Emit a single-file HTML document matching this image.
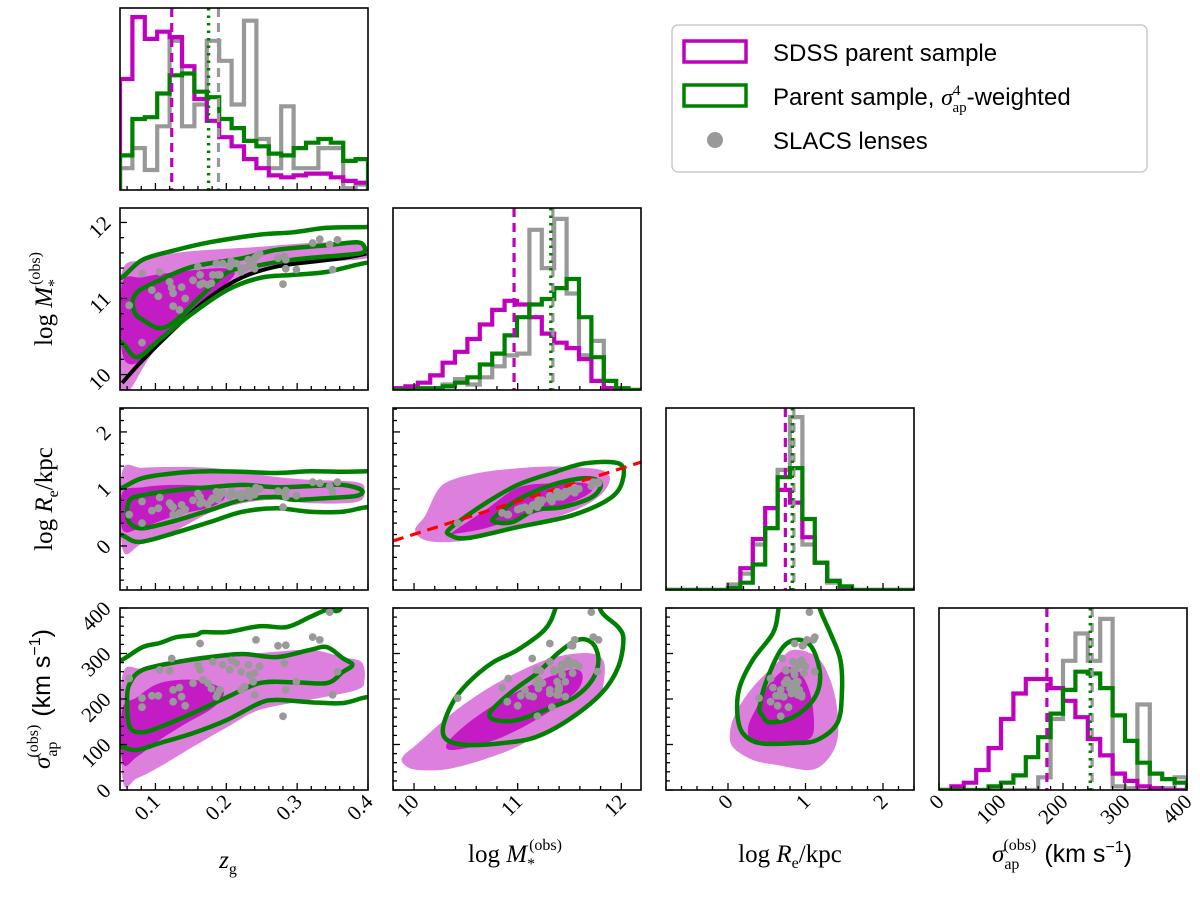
<!DOCTYPE html>
<html>
<head>
<meta charset="utf-8">
<style>
  html,body{margin:0;padding:0;background:#fff;}
  svg{display:block;}
  text{font-family:"Liberation Serif",serif;}
  .sans{font-family:"Liberation Sans",sans-serif;}
</style>
</head>
<body>
<svg id="chart" xmlns="http://www.w3.org/2000/svg" width="1200" height="900" viewBox="0 0 1200 900">
  <rect x="0" y="0" width="1200" height="900" fill="#ffffff"/>
  <defs id="defs"></defs>
  <g id="legend">
    <rect x="672" y="25" width="475" height="147" rx="6" ry="6" fill="#fff" stroke="#cccccc" stroke-width="1.5"/>
    <rect x="684" y="41" width="62" height="21" fill="none" stroke="#bf00bf" stroke-width="3.5"/>
    <text class="sans" x="773" y="61" font-size="24">SDSS parent sample</text>
    <rect x="684" y="85" width="62" height="21" fill="none" stroke="#008000" stroke-width="3.5"/>
    <text class="sans" x="773" y="105" font-size="24">Parent sample, <tspan font-family="Liberation Serif" font-style="italic">σ</tspan><tspan font-size="15" dy="-10" font-family="Liberation Serif">4</tspan><tspan font-size="15" dx="-8" dy="17" font-family="Liberation Serif">ap</tspan><tspan dy="-7">-weighted</tspan></text>
    <circle cx="715" cy="140" r="8" fill="#999999"/>
    <text class="sans" x="773" y="149" font-size="24">SLACS lenses</text>
  </g>
  <g id="axis-titles">
    <text x="228" y="868" font-size="25" text-anchor="middle"><tspan font-style="italic">z</tspan><tspan font-size="16" dy="6">g</tspan></text>
    <text x="515" y="862" font-size="25" text-anchor="middle">log <tspan font-style="italic">M</tspan><tspan font-size="16" dy="7">*</tspan><tspan font-size="16" dx="-6" dy="-19">(obs)</tspan></text>
    <text x="790" y="862" font-size="25" text-anchor="middle">log <tspan font-style="italic">R</tspan><tspan font-size="16" dy="6">e</tspan><tspan dy="-6">/kpc</tspan></text>
    <text x="1062" y="862" font-size="25" text-anchor="middle"><tspan font-style="italic">σ</tspan><tspan font-size="16" dy="7">ap</tspan><tspan font-size="16" dx="-16" dy="-19">(obs)</tspan><tspan class="sans" font-family="Liberation Sans" dx="8" dy="12">(km s</tspan><tspan class="sans" font-family="Liberation Sans" font-size="16" dy="-10">−1</tspan><tspan class="sans" font-family="Liberation Sans" dy="10">)</tspan></text>
    <text transform="translate(52,299) rotate(-90)" font-size="25" text-anchor="middle">log <tspan font-style="italic">M</tspan><tspan font-size="16" dy="7">*</tspan><tspan font-size="16" dx="-6" dy="-19">(obs)</tspan></text>
    <text transform="translate(52,499) rotate(-90)" font-size="25" text-anchor="middle">log <tspan font-style="italic">R</tspan><tspan font-size="16" dy="6">e</tspan><tspan dy="-6">/kpc</tspan></text>
    <text transform="translate(50,699) rotate(-90)" font-size="25" text-anchor="middle"><tspan font-style="italic">σ</tspan><tspan font-size="16" dy="7">ap</tspan><tspan font-size="16" dx="-16" dy="-19">(obs)</tspan><tspan font-family="Liberation Sans" dx="8" dy="12">(km s</tspan><tspan font-family="Liberation Sans" font-size="16" dy="-10">−1</tspan><tspan font-family="Liberation Sans" dy="10">)</tspan></text>
  </g>
</svg>
<script>
// ---------------- data ----------------
const lensZ=[0.063,0.081,0.081,0.095,0.104,0.106,0.120,0.123,0.125,0.125,0.134,0.137,0.142,0.153,0.160,0.163,0.163,0.167,0.174,0.179,0.181,0.186,0.188,0.191,0.195,0.205,0.207,0.214,0.221,0.221,0.226,0.231,0.233,0.238,0.240,0.242,0.240,0.247,0.273,0.280,0.282,0.284,0.284,0.299,0.322,0.332,0.346,0.350,0.357];
const lensM=[10.91,11.33,10.42,11.11,11.03,11.35,11.22,11.14,10.90,11.07,10.85,11.15,11.00,11.24,11.42,11.18,11.31,11.20,11.18,11.20,11.31,11.46,11.31,11.31,11.46,11.42,11.49,11.46,11.35,11.40,11.40,11.51,11.43,11.46,11.53,11.55,11.39,11.59,11.53,11.19,11.55,11.51,11.39,11.38,11.73,11.78,11.71,11.38,11.77];
const lensRe=[0.55,0.78,0.40,0.62,0.66,0.85,0.75,0.70,0.55,0.68,0.58,0.72,0.64,0.80,0.92,0.74,0.86,0.76,0.73,0.80,0.84,0.95,0.82,0.88,0.93,0.87,0.95,0.90,0.85,0.92,0.88,0.97,0.86,0.90,0.98,1.02,0.90,1.00,0.96,0.68,0.93,0.97,0.86,0.88,1.12,1.10,1.05,0.95,1.12];
const lensSig=[245,182,202,207,207,264,262,289,194,220,225,205,185,235,275,264,322,242,235,223,282,205,212,220,275,264,285,279,260,220,227,275,253,238,257,330,209,272,317,162,279,318,220,238,336,330,391,209,260];

const zHistSDSS=[61,95,83,87,84,68,50,38,29,24,17,12,8,7,8,9,9,7,5,4];
const zHistWeighted=[19,39,40,53,63,64,54,51,39,34,27,24,20,19,23,26,28,26,16,17];
const zHistLens=[12,23,11,35,82,35,47,82,71,47,93,28,12,46,12,12,23,23,1,3];
const MHistSDSS=[1,2,4,8,15,21,28,36,44,49,47,40,31,26,23,17,5,1,0,0];
const MHistWeighted=[0,0,1,1,2,4,7,14,20,30,40,47,50,56,61,40,18,5,1,0];
const MHistLens=[0,0,0,0,3,6,3,7,13,19,20,88,67,94,53,19,27,1,0,0];
const ReHistSDSS=[0,0,0,0,0,1,12,28,45,55,48,29,15,5,1,0,0,0,0,0];
const ReHistWeighted=[0,0,0,0,0,1,4,14,34,62,67,39,15,5,2,0,0,0,0,0];
const ReHistLens=[0,0,0,0,0,3,9,25,34,66,95,25,15,4,0,0,0,0,0,0];
const SHistSDSS=[0,2,4,11,23,39,53,61,61,56,49,40,28,19,9,5,2,1,0,0];
const SHistWeighted=[0,0,0,0,2,4,8,18,29,42,55,65,64,56,41,27,15,9,6,4];
const SHistLens=[0,0,0,0,0,0,0,0,7,39,71,86,71,94,2,1,47,1,1,7];

const zMedians=[0.123,0.175,0.189];
const MMedians=[10.965,11.32,11.34];
const ReMedians=[0.74,0.83,0.85];
const SMedians=[174,244,247];

// z vs logM
const zMLight=[[0.051,11.28],[0.082,11.51],[0.130,11.60],[0.177,11.64],[0.247,11.68],[0.318,11.73],[0.384,11.74],[0.40,11.64],[0.40,11.53],[0.318,11.47],[0.271,11.42],[0.223,11.28],[0.177,10.98],[0.130,10.63],[0.092,10.23],[0.064,9.80],[0.051,9.80]];
const zMDark=[[0.053,11.20],[0.082,11.28],[0.130,11.35],[0.191,11.40],[0.212,11.34],[0.195,11.15],[0.153,10.85],[0.106,10.46],[0.074,10.15],[0.053,10.29]];
const zMInner=[[0.068,10.98],[0.078,11.11],[0.106,11.24],[0.153,11.42],[0.223,11.53],[0.271,11.64],[0.342,11.70],[0.384,11.74],[0.395,11.68],[0.392,11.60],[0.364,11.57],[0.294,11.51],[0.237,11.42],[0.201,11.34],[0.163,11.02],[0.130,10.72],[0.106,10.61],[0.082,10.72],[0.071,10.81]];
const zMOuterUpper=[[0.053,11.28],[0.082,11.51],[0.130,11.64],[0.177,11.74],[0.247,11.84],[0.294,11.87],[0.342,11.93],[0.398,11.94]];
const zMOuterLower=[[0.053,10.42],[0.074,10.23],[0.106,10.46],[0.153,10.81],[0.201,11.11],[0.247,11.27],[0.294,11.31],[0.342,11.35],[0.398,11.47]];
const zMCurve=[[0.053,9.89],[0.082,10.19],[0.130,10.63],[0.177,11.02],[0.223,11.28],[0.271,11.42],[0.318,11.48],[0.364,11.53],[0.398,11.59]];

// z vs logRe
const zReLight=[[0.053,1.30],[0.082,1.37],[0.130,1.385],[0.177,1.37],[0.223,1.30],[0.271,1.21],[0.318,1.16],[0.384,1.12],[0.395,0.98],[0.384,0.77],[0.318,0.75],[0.271,0.81],[0.223,0.75],[0.177,0.58],[0.130,0.28],[0.082,0.05],[0.054,-0.07]];
const zReDark=[[0.053,0.93],[0.082,1.03],[0.130,1.07],[0.177,1.03],[0.198,0.86],[0.177,0.68],[0.130,0.54],[0.082,0.33],[0.054,0.28]];
const zReInner=[[0.064,0.81],[0.082,0.89],[0.130,0.98],[0.177,1.03],[0.223,1.07],[0.271,1.03],[0.318,1.05],[0.364,1.07],[0.391,0.98],[0.384,0.88],[0.342,0.84],[0.294,0.81],[0.271,0.86],[0.223,0.81],[0.177,0.63],[0.130,0.45],[0.082,0.31],[0.064,0.40],[0.060,0.58]];
const zReOuterUpper=[[0.053,1.02],[0.082,1.19],[0.130,1.28],[0.177,1.31],[0.223,1.30],[0.271,1.28],[0.318,1.31],[0.364,1.30],[0.398,1.31]];
const zReOuterLower=[[0.053,0.19],[0.078,0.07],[0.130,0.24],[0.177,0.42],[0.223,0.60],[0.271,0.66],[0.318,0.60],[0.364,0.60],[0.398,0.68]];

// logM vs logRe
const MReLight=[[10.01,0.28],[10.11,0.54],[10.23,0.98],[10.37,1.16],[10.69,1.30],[11.17,1.385],[11.49,1.385],[11.81,1.33],[11.89,1.16],[11.78,0.86],[11.49,0.58],[11.00,0.33],[10.69,0.16],[10.37,0.07],[10.11,0.10]];
const MReDark=[[10.37,0.24],[10.69,0.63],[11.00,1.02],[11.33,1.10],[11.65,1.10],[11.72,0.98],[11.58,0.81],[11.33,0.66],[11.00,0.49],[10.69,0.31],[10.42,0.22]];
const MReInner=[[10.78,0.51],[11.00,0.81],[11.33,1.07],[11.65,1.19],[11.80,1.10],[11.72,0.86],[11.43,0.68],[11.17,0.63],[10.95,0.42],[10.78,0.42]];
const MReOuter=[[10.35,0.31],[10.69,0.75],[11.00,1.07],[11.33,1.28],[11.65,1.45],[11.97,1.45],[12.02,1.21],[11.91,0.86],[11.53,0.54],[11.00,0.33],[10.52,0.14],[10.35,0.19]];
const fitLineM=[9.797,12.19];
const fitLineRe=[0.087,1.47];

// z vs sigma
const zSLight=[[0.053,248],[0.082,268],[0.130,286],[0.177,297],[0.247,301],[0.318,308],[0.364,292],[0.391,281],[0.395,242],[0.384,220],[0.318,198],[0.247,176],[0.201,138],[0.153,95],[0.106,51],[0.074,26],[0.054,22]];
const zSDark=[[0.053,176],[0.074,204],[0.106,235],[0.153,242],[0.191,226],[0.195,204],[0.177,176],[0.144,147],[0.106,110],[0.074,73],[0.054,59]];
const zSInner=[[0.060,198],[0.064,235],[0.082,264],[0.130,281],[0.177,292],[0.223,299],[0.271,292],[0.318,308],[0.342,314],[0.364,290],[0.378,275],[0.364,259],[0.342,235],[0.294,237],[0.247,235],[0.201,204],[0.153,169],[0.106,138],[0.082,127],[0.064,138]];
const zSOuterUpper=[[0.053,286],[0.082,314],[0.106,323],[0.130,336],[0.158,341],[0.167,347],[0.201,347],[0.247,360],[0.285,358],[0.318,380],[0.342,396],[0.360,396]];
const zSOuterLower=[[0.053,95],[0.074,88],[0.106,103],[0.153,125],[0.201,154],[0.247,191],[0.271,198],[0.318,193],[0.364,191],[0.398,204]];

// logM vs sigma
const MSLight=[[9.89,73],[10.04,103],[10.37,169],[10.69,220],[11.00,259],[11.33,290],[11.65,301],[11.81,290],[11.84,257],[11.78,204],[11.53,160],[11.17,116],[10.85,81],[10.37,48],[10.04,44],[9.91,55]];
const MSDark=[[10.32,103],[10.52,147],[10.85,198],[11.17,235],[11.49,264],[11.62,257],[11.58,220],[11.33,176],[11.00,132],[10.69,103],[10.37,88]];
const MSInner=[[10.73,169],[10.85,198],[11.00,226],[11.20,259],[11.39,301],[11.58,330],[11.72,323],[11.78,286],[11.72,242],[11.55,204],[11.33,182],[11.00,154],[10.78,154]];
const MSOuter=[[11.40,440],[11.36,396],[11.26,352],[11.00,308],[10.75,279],[10.52,235],[10.37,191],[10.28,138],[10.32,110],[10.52,99],[10.85,103],[11.17,116],[11.49,154],[11.81,213],[11.97,270],[12.02,330],[11.97,358],[11.81,391],[11.72,440]];

// logRe vs sigma
const ReSLight=[[0.03,132],[0.12,176],[0.32,226],[0.63,279],[0.84,308],[1.15,292],[1.32,242],[1.41,176],[1.41,110],[1.28,66],[1.06,44],[0.63,55],[0.32,66],[0.06,95]];
const ReSDark=[[0.26,138],[0.37,182],[0.54,235],[0.80,270],[0.97,248],[1.08,198],[1.10,125],[0.93,105],[0.63,99],[0.32,105]];
const ReSInner=[[0.41,182],[0.50,242],[0.71,314],[0.93,330],[1.10,308],[1.19,248],[1.10,198],[0.84,160],[0.54,149],[0.44,165]];
const ReSOuter=[[0.68,440],[0.65,396],[0.58,345],[0.32,286],[0.15,226],[0.12,169],[0.19,125],[0.41,103],[0.84,103],[1.15,110],[1.41,147],[1.47,213],[1.45,286],[1.32,345],[1.19,396],[1.13,440]];

const zTickVals=[0.1,0.2,0.3,0.4];
const zTickLabels=['0.1','0.2','0.3','0.4'];
const MTickVals=[10,11,12];
const MTickLabels=['10','11','12'];
const ReTickVals=[0,1,2];
const ReTickLabels=['0','1','2'];
const STickVals=[0,100,200,300,400];
const STickLabels=['0','100','200','300','400'];

// ---------------- rendering ----------------
const NS='http://www.w3.org/2000/svg';
const svg=document.getElementById('chart');
const defs=document.getElementById('defs');
function mk(tag,attrs,parent){const e=document.createElementNS(NS,tag);for(const k in attrs)e.setAttribute(k,attrs[k]);(parent||svg).appendChild(e);return e;}

const VARS=['z','M','Re','S'];
const COLX=[120,393,666,939], ROWY=[8,208,408,608], PW=248, PH=182;
const XDOM={z:[0.05,0.4],M:[9.797,12.19],Re:[-0.8,2.4],S:[0,400]};
const YDOM={z:[0.05,0.4],M:[9.797,12.19],Re:[-0.773,2.42],S:[0,400]};
const TSTEP={z:[0.02,0.1],M:[0.2,1],Re:[0.2,1],S:[20,100]};
const LENS={z:lensZ,M:lensM,Re:lensRe,S:lensSig};
const HISTS={z:[zHistLens,zHistSDSS,zHistWeighted],M:[MHistLens,MHistSDSS,MHistWeighted],Re:[ReHistLens,ReHistSDSS,ReHistWeighted],S:[SHistLens,SHistSDSS,SHistWeighted]};
const MEDS={z:zMedians,M:MMedians,Re:ReMedians,S:SMedians};
const TLAB={z:[zTickVals,zTickLabels],M:[MTickVals,MTickLabels],Re:[ReTickVals,ReTickLabels],S:[STickVals,STickLabels]};
const MAG='#bf00bf', GRN='#008000', GRY='#999999', LIGHT='#dd80dd', DARK='#c41cc4';

function xS(col,v){const d=XDOM[VARS[col]];return COLX[col]+(v-d[0])/(d[1]-d[0])*PW;}
function yS(row,v){const d=YDOM[VARS[row]];return ROWY[row]+PH-(v-d[0])/(d[1]-d[0])*PH;}
function hS(row,c){return ROWY[row]+PH-c/100*PH;}

function crPath(P,closed){
  const n=P.length;const g=i=>closed?P[((i%n)+n)%n]:P[Math.max(0,Math.min(n-1,i))];
  let d='M'+P[0][0].toFixed(1)+','+P[0][1].toFixed(1);
  const segs=closed?n:n-1;
  for(let i=0;i<segs;i++){const p0=g(i-1),p1=g(i),p2=g(i+1),p3=g(i+2);
    const c1=[p1[0]+(p2[0]-p0[0])/6,p1[1]+(p2[1]-p0[1])/6];
    const c2=[p2[0]-(p3[0]-p1[0])/6,p2[1]-(p3[1]-p1[1])/6];
    d+=' C'+c1[0].toFixed(1)+','+c1[1].toFixed(1)+' '+c2[0].toFixed(1)+','+c2[1].toFixed(1)+' '+p2[0].toFixed(1)+','+p2[1].toFixed(1);}
  if(closed)d+=' Z';return d;
}

function clipFor(col,row){
  const id='clip-'+col+'-'+row;
  if(!document.getElementById(id)){const cp=mk('clipPath',{id:id},defs);mk('rect',{x:COLX[col],y:ROWY[row],width:PW,height:PH},cp);}
  return 'url(#'+id+')';
}

function ticks(col,row,isHist){
  const g=mk('g',{});
  
  
  const xv=VARS[col], dx=XDOM[xv], st=TSTEP[xv];
  const by=ROWY[row]+PH;
  for(let v=Math.ceil(dx[0]/st[0]-1e-6)*st[0]; v<=dx[1]+1e-6; v+=st[0]){
    const r=v/st[1], maj=Math.abs(r-Math.round(r))<1e-4; const x=xS(col,v);
    mk('line',{x1:x,x2:x,y1:by,y2:by-(maj?7:4),stroke:'#000','stroke-width':1.3},g);
  }
  if(!isHist){
    const yv=VARS[row], dy=YDOM[yv], sy=TSTEP[yv];
    for(let v=Math.ceil(dy[0]/sy[0]-1e-6)*sy[0]; v<=dy[1]+1e-6; v+=sy[0]){
      const r=v/sy[1], maj=Math.abs(r-Math.round(r))<1e-4; const y=yS(row,v);
      mk('line',{x1:COLX[col],x2:COLX[col]+(maj?7:4),y1:y,y2:y,stroke:'#000','stroke-width':1.3},g);
    }
  }
}

function frame(col,row,name){
  const r=mk('rect',{x:COLX[col],y:ROWY[row],width:PW,height:PH,fill:'none',stroke:'#000','stroke-width':1.6});
  
  
}

// histograms on diagonal
const histNames=['lens-hist','sdss-hist','weighted-hist'];
const histColors=[GRY,MAG,GRN];
for(let i=0;i<4;i++){
  const v=VARS[i]; const d=XDOM[v]; const clip=clipFor(i,i);
  const g=mk('g',{'clip-path':clip});
  
  
  HISTS[v].forEach((counts,s)=>{
    const n=counts.length, w=(d[1]-d[0])/n; const by=ROWY[i]+PH;
    let p='M'+xS(i,d[0])+','+by;
    for(let k=0;k<n;k++){p+=' L'+xS(i,d[0]+k*w).toFixed(1)+','+hS(i,counts[k]).toFixed(1)+' L'+xS(i,d[0]+(k+1)*w).toFixed(1)+','+hS(i,counts[k]).toFixed(1);}
    p+=' L'+xS(i,d[1])+','+by;
    const el=mk('path',{d:p,fill:'none',stroke:histColors[s],'stroke-width':4.2,'stroke-linejoin':'miter'},g);
    
    
  });
  const meds=MEDS[v];
  const medStyles=[[MAG,'9,6',3.2],[GRN,'2.5,5',3.4],[GRY,'9,6',3.2]];
  const medNames=['sdss-median-line','weighted-median-line','lens-median-line'];
  [0,2,1].forEach(s=>{
    const x=xS(i,meds[s]);
    const el=mk('line',{x1:x,x2:x,y1:ROWY[i],y2:ROWY[i]+PH,stroke:medStyles[s][0],'stroke-dasharray':medStyles[s][1],'stroke-width':medStyles[s][2]},g);
    
    
  });
  ticks(i,i,true);
  frame(i,i,'panel-frame-hist-'+v);
}

// 2D panels
function toPx(col,row,pts){return pts.map(p=>[xS(col,p[0]),yS(row,p[1])]);}
const panels2D=[
  {col:0,row:1,light:zMLight,dark:zMDark,inner:zMInner,outer:zMOuterUpper.concat([[0.43,11.96],[0.43,11.46]],zMOuterLower.slice().reverse(),[[0.03,10.5],[0.03,11.2]])},
  {col:0,row:2,light:zReLight,dark:zReDark,inner:zReInner,outer:zReOuterUpper.concat([[0.43,1.31],[0.43,0.68]],zReOuterLower.slice().reverse(),[[0.03,0.3],[0.03,0.9]])},
  {col:1,row:2,light:MReLight,dark:MReDark,inner:MReInner,outer:MReOuter},
  {col:0,row:3,light:zSLight,dark:zSDark,inner:zSInner,outer:zSOuterUpper.concat([[0.372,440],[0.43,440],[0.43,204]],zSOuterLower.slice().reverse(),[[0.03,110],[0.03,270]])},
  {col:1,row:3,light:MSLight,dark:MSDark,inner:MSInner,outer:MSOuter},
  {col:2,row:3,light:ReSLight,dark:ReSDark,inner:ReSInner,outer:ReSOuter}
];
panels2D.forEach(P=>{
  const c=P.col,r=P.row; const nm=VARS[c]+'-vs-'+VARS[r];
  const g=mk('g',{'clip-path':clipFor(c,r)});
  
  
  const lf=mk('path',{d:crPath(toPx(c,r,P.light),true),fill:LIGHT,stroke:'none'},g);
  
  
  const df=mk('path',{d:crPath(toPx(c,r,P.dark),true),fill:DARK,stroke:'none'},g);
  
  
  if(c===0&&r===1){
    const bl=mk('path',{d:crPath(toPx(c,r,zMCurve),false),fill:'none',stroke:'#000','stroke-width':4},g);
    
    
  }
  const oc=mk('path',{d:crPath(toPx(c,r,P.outer),true),fill:'none',stroke:GRN,'stroke-width':4.5},g);
  
  
  const ic=mk('path',{d:crPath(toPx(c,r,P.inner),true),fill:'none',stroke:GRN,'stroke-width':4.5},g);
  
  
  if(c===1&&r===2){
    const rl=mk('line',{x1:xS(c,fitLineM[0]),y1:yS(r,fitLineRe[0]),x2:xS(c,fitLineM[1]),y2:yS(r,fitLineRe[1]),stroke:'#ff0000','stroke-width':3.2,'stroke-dasharray':'11,7'},g);
    
    
  }
  const xs=LENS[VARS[c]], ys=LENS[VARS[r]];
  for(let k=0;k<xs.length;k++){
    const pt=mk('circle',{cx:xS(c,xs[k]).toFixed(1),cy:yS(r,ys[k]).toFixed(1),r:3.9,fill:GRY},g);
    
    
  }
  ticks(c,r,false);
  frame(c,r,'panel-frame-'+nm);
});

// tick labels: bottom row x labels
for(let c=0;c<4;c++){
  const t=TLAB[VARS[c]];
  t[0].forEach((v,k)=>{
    const px=xS(c,v)+6, py=803;
    const tx=mk('text',{x:px,y:py,'font-size':21,'text-anchor':'end',transform:'rotate(-45 '+px+' '+py+')'});
    tx.textContent=t[1][k];
    
    
  });
}
// left column y labels
for(let r=1;r<4;r++){
  const t=TLAB[VARS[r]];
  t[0].forEach((v,k)=>{
    const px=112, py=yS(r,v)+2;
    const tx=mk('text',{x:px,y:py,'font-size':21,'text-anchor':'end',transform:'rotate(-45 '+px+' '+py+')'});
    tx.textContent=t[1][k];
    
    
  });
}
</script>
</body>
</html>
